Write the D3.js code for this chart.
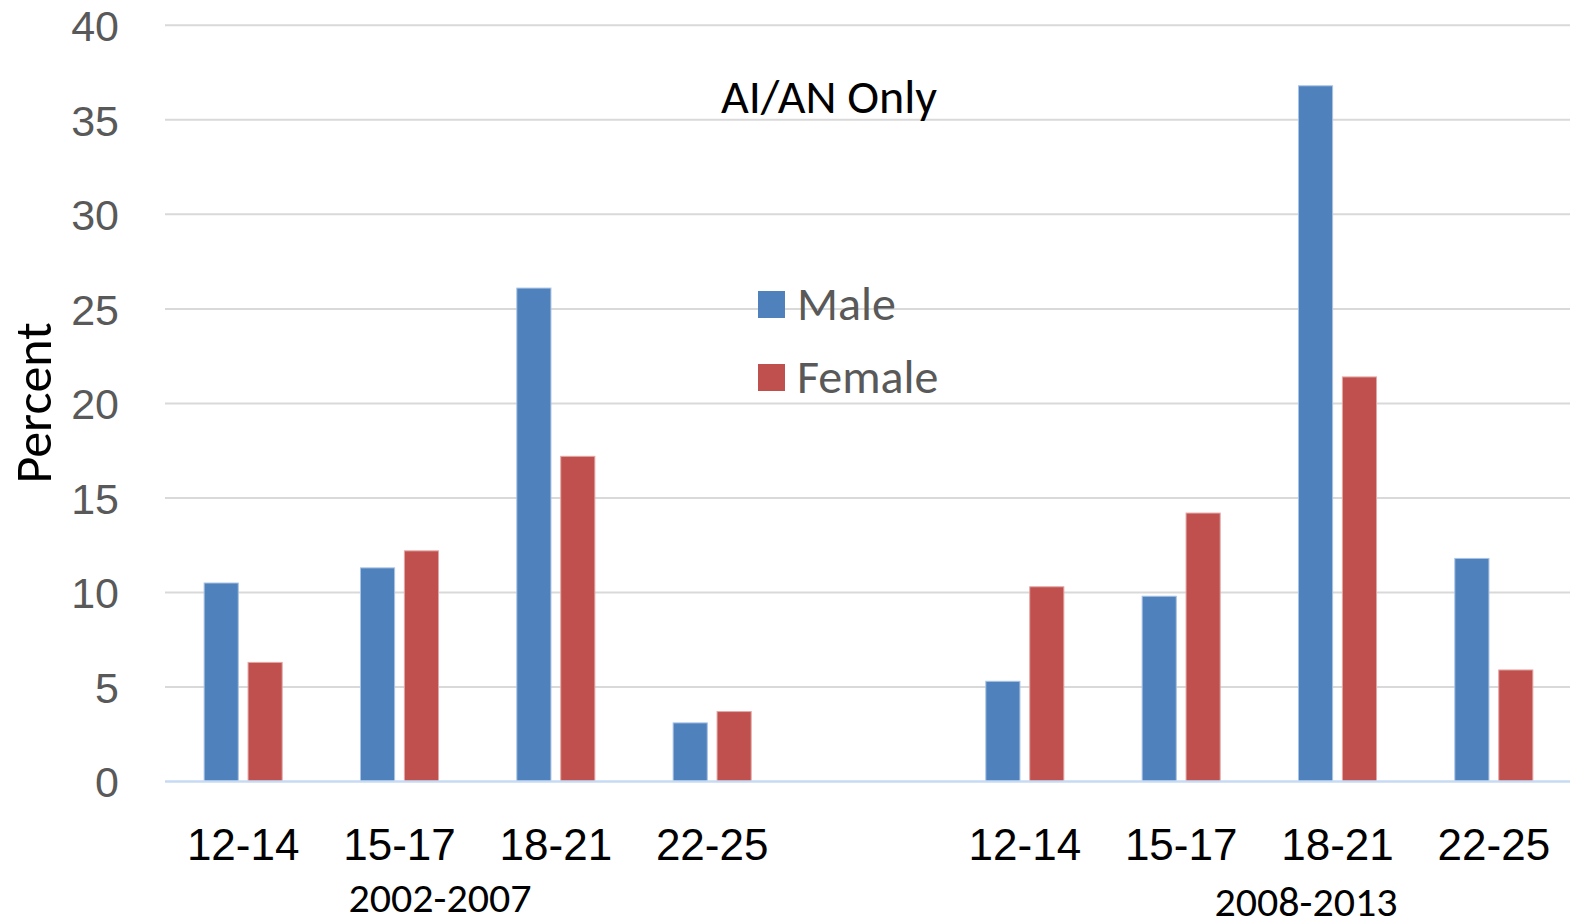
<!DOCTYPE html>
<html>
<head>
<meta charset="utf-8">
<script src="https://cdn.jsdelivr.net/npm/d3@7"></script>
<style>
  html, body { margin: 0; padding: 0; background: #fff; }
  svg { display: block; font-family: Carlito, Lato, "Open Sans", sans-serif; }
</style>
</head>
<body>
<svg id="chart" width="1570" height="918"></svg>
<script>
// Age groups shown within each survey period
const ageGroups = ["12-14", "15-17", "18-21", "22-25"];
const periods = ["2002-2007", "2008-2013"];
const seriesNames = ["Male", "Female"];

// Percent values, period by period, in age-group order
const male2002 = [10.5, 11.3, 26.1, 3.1];
const female2002 = [6.3, 12.2, 17.2, 3.7];
const male2008 = [5.3, 9.8, 36.8, 11.8];
const female2008 = [10.3, 14.2, 21.4, 5.9];

const yTicks = [0, 5, 10, 15, 20, 25, 30, 35, 40];

const colors = { Male: "#4f81bd", Female: "#c0504d" };
const strokes = { Male: "#a9c3e3", Female: "#e3a7a5" };

// Rows: one per (period, age group); an empty slot separates the periods
const rows = [];
[[male2002, female2002], [male2008, female2008]].forEach(([m, f], p) => {
  ageGroups.forEach((g, i) => {
    rows.push({ key: periods[p] + "|" + g, period: periods[p], age: g, Male: m[i], Female: f[i] });
  });
});
const slotKeys = [
  ...rows.filter(r => r.period === periods[0]).map(r => r.key),
  "gap",
  ...rows.filter(r => r.period === periods[1]).map(r => r.key)
];

const svg = d3.select("#chart");
const plotLeft = 165, plotRight = 1572, plotTop = 25.3, plotBottom = 781.5;

const x0 = d3.scaleBand().domain(slotKeys).range([plotLeft, plotRight]).padding(0);
const x1 = d3.scaleBand().domain(seriesNames).range([0, x0.bandwidth()])
  .paddingInner(0.2).paddingOuter(0.88);
const y = d3.scaleLinear().domain([0, 40]).range([plotBottom, plotTop]);

// Horizontal gridlines
svg.append("g")
  .selectAll("line")
  .data(yTicks.filter(t => t > 0))
  .join("line")
  .attr("x1", plotLeft).attr("x2", 1570)
  .attr("y1", d => y(d)).attr("y2", d => y(d))
  .attr("stroke", "#d9d9d9").attr("stroke-width", 2);

// Y axis labels
const yAxis = d3.axisLeft(y).tickValues(yTicks).tickSize(0).tickPadding(0);
const yg = svg.append("g").attr("transform", `translate(${plotLeft - 46},0)`).call(yAxis);
yg.select(".domain").remove();
yg.selectAll("text")
  .attr("fill", "#595959")
  .style("font-size", "43px")
  .attr("dy", "0.36em");

// Bars
const groups = svg.append("g")
  .selectAll("g")
  .data(rows)
  .join("g")
  .attr("transform", d => `translate(${x0(d.key)},0)`);

groups.selectAll("rect")
  .data(d => seriesNames.map(s => ({ series: s, value: d[s] })))
  .join("rect")
  .attr("x", d => x1(d.series) + 0.5)
  .attr("width", x1.bandwidth() - 1)
  .attr("y", d => y(d.value))
  .attr("height", d => y(0) - y(d.value))
  .attr("fill", d => colors[d.series])
  .attr("stroke", d => strokes[d.series])
  .attr("stroke-width", 1);

// Baseline
svg.append("line")
  .attr("x1", plotLeft).attr("x2", 1570)
  .attr("y1", y(0)).attr("y2", y(0))
  .attr("stroke", "#c6dbf3").attr("stroke-width", 2.5);

// Age group labels
const xAxis = d3.axisBottom(x0)
  .tickValues(rows.map(r => r.key))
  .tickFormat(k => k.split("|")[1])
  .tickSize(0).tickPadding(0);
const xg = svg.append("g").attr("transform", "translate(0,860)").call(xAxis);
xg.select(".domain").remove();
xg.selectAll("text")
  .attr("fill", "#000")
  .attr("y", 0)
  .attr("dy", 0)
  .style("font-size", "44px");

// Period labels
svg.append("text").attr("x", 440).attr("y", 912).attr("text-anchor", "middle")
  .style("font-size", "42px").attr("fill", "#000").text(periods[0]);
svg.append("text").attr("x", 1306).attr("y", 916).attr("text-anchor", "middle")
  .style("font-size", "42px").attr("fill", "#000").text(periods[1]);

// Title
svg.append("text").attr("x", 829).attr("y", 113).attr("text-anchor", "middle")
  .style("font-size", "48px").attr("fill", "#000").text("AI/AN Only");

// Y axis title
svg.append("text")
  .attr("transform", "translate(51,403) rotate(-90)")
  .attr("text-anchor", "middle")
  .style("font-size", "52px").attr("fill", "#000").text("Percent");

// Legend
const legend = svg.append("g");
seriesNames.forEach((s, i) => {
  const ly = 291 + i * 73;
  legend.append("rect").attr("x", 758).attr("y", ly).attr("width", 27).attr("height", 27)
    .attr("fill", colors[s]);
  legend.append("text").attr("x", 797).attr("y", ly + 29)
    .style("font-size", "48px").attr("fill", "#595959").text(s);
});
</script>
</body>
</html>
